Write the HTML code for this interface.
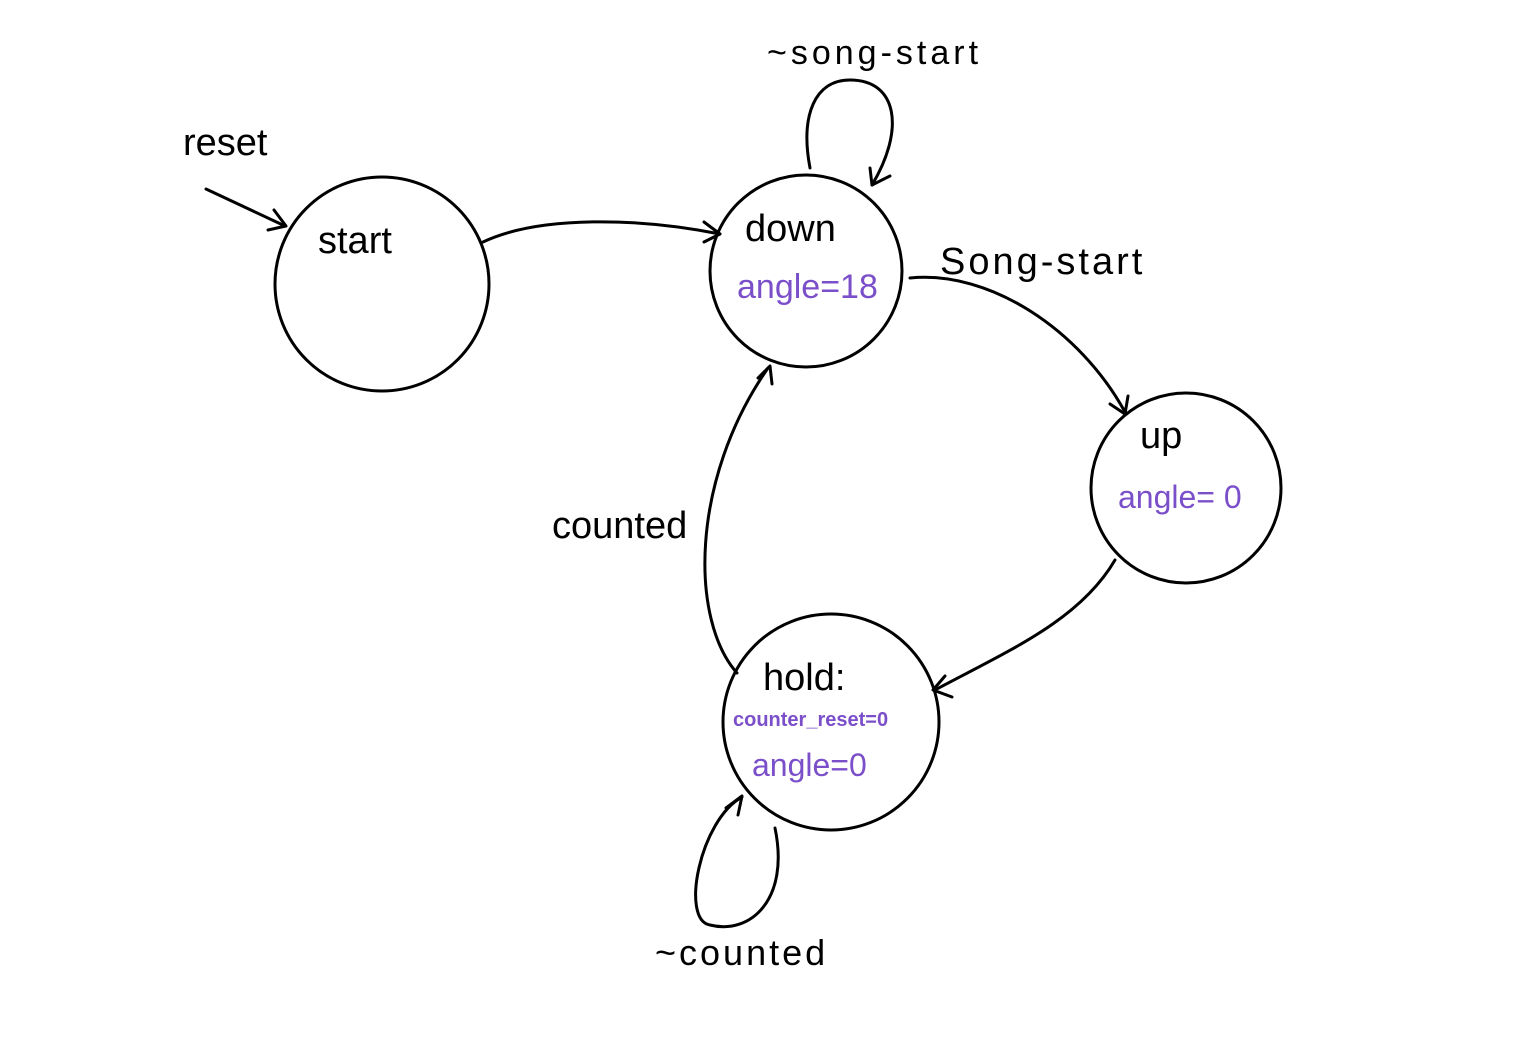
<!DOCTYPE html>
<html><head><meta charset="utf-8"><style>
html,body{margin:0;padding:0;background:#fff;}
svg{display:block}
text{font-family:"Liberation Sans",sans-serif;}
</style></head><body>
<svg width="1517" height="1054" viewBox="0 0 1517 1054" xmlns="http://www.w3.org/2000/svg">
<g fill="none" stroke="#000" stroke-width="3" stroke-linecap="round" stroke-linejoin="round">
<circle cx="382" cy="284" r="107"/>
<circle cx="806" cy="271" r="96"/>
<circle cx="1186" cy="488" r="95"/>
<circle cx="831" cy="722" r="108"/>
<path d="M206 189 L285 226"/><path d="M274 210 L286 226 L268 230"/>
<path d="M483 242 C540 215 640 218 720 234"/><path d="M704 222 L720 234 L704 242"/>
<path d="M810 168 C800 115 815 80 850 80 C898 80 905 130 872 185"/><path d="M870 168 L872 185 L890 176"/>
<path d="M910 278 C990 270 1080 330 1125 412"/><path d="M1110 404 L1125 414 L1128 396"/>
<path d="M1115 560 C1080 620 1010 650 935 690"/><path d="M945 676 L933 690 L952 697"/>
<path d="M737 673 C690 620 690 480 768 368"/><path d="M758 378 L770 366 L772 384"/>
<path d="M742 797 C700 820 680 920 710 925 C750 935 790 900 775 828"/><path d="M726 808 L742 796 L738 815"/>
</g>
<g font-size="38" fill="#000">
<text x="183" y="155">reset</text>
<text x="318" y="253">start</text>
<text x="745" y="241">down</text>
<text x="1140" y="448">up</text>
<text x="763" y="690">hold:</text>
<text x="552" y="538">counted</text>
<text x="940" y="274" letter-spacing="3">Song-start</text>
<text x="767" y="64" font-size="34" letter-spacing="4">~song-start</text>
<text x="655" y="965" font-size="36" letter-spacing="3">~counted</text>
</g>
<g fill="#7b4fc9">
<text x="737" y="298" font-size="34">angle=18</text>
<text x="1118" y="508" font-size="32">angle= 0</text>
<text x="733" y="726" font-size="20" font-weight="bold">counter_reset=0</text>
<text x="752" y="776" font-size="32">angle=0</text>
</g>
</svg>
</body></html>
